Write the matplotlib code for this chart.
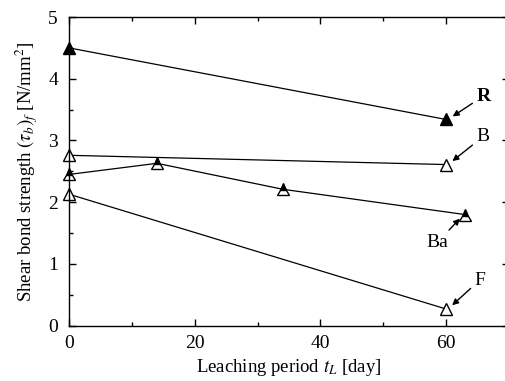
import matplotlib
matplotlib.use("Agg")
import matplotlib.pyplot as plt
from matplotlib.ticker import MultipleLocator

plt.rcParams['font.family'] = ['Liberation Serif', 'DejaVu Serif']
plt.rcParams['mathtext.fontset'] = 'stix'

# data
r_x = [0, 60]
r_y = [4.5, 3.34]
b_x = [0, 60]
b_y = [2.76, 2.61]
ba_x = [0, 14, 34, 63]
ba_y = [2.45, 2.63, 2.21, 1.80]
f_x = [0, 60]
f_y = [2.13, 0.27]

fig = plt.figure(figsize=(5.05, 3.81), dpi=100)
ax = fig.add_axes([69 / 505, 1 - 325.7 / 381, 440 / 505, 308.7 / 381])

ms = 8
ax.plot(r_x, r_y, color='black', lw=0.9, marker='^', ms=ms, mfc='black', mec='black', clip_on=False)
ax.plot(b_x, b_y, color='black', lw=0.9, marker='^', ms=ms, mfc='white', mec='black', clip_on=False)
ax.plot(ba_x, ba_y, color='black', lw=0.9, marker='^', ms=ms, fillstyle='top',
        mfc='black', mfcalt='white', mec='black', clip_on=False)
ax.plot(f_x, f_y, color='black', lw=0.9, marker='^', ms=ms, mfc='white', mec='black', clip_on=False)

arr = dict(arrowstyle='-|>', color='black', lw=1.0, mutation_scale=9, shrinkA=1, shrinkB=4)
ax.annotate('R', xy=(60.3, 3.34), xytext=(64.8, 3.72), fontsize=14, fontweight='bold',
            arrowprops=arr, ha='left', va='center')
ax.annotate('B', xy=(60.3, 2.61), xytext=(64.8, 3.06), fontsize=14,
            arrowprops=arr, ha='left', va='center')
ax.annotate('Ba', xy=(62.8, 1.8), xytext=(58.6, 1.35), fontsize=14,
            arrowprops=arr, ha='center', va='center')
ax.annotate('F', xy=(60.3, 0.27), xytext=(64.5, 0.74), fontsize=14,
            arrowprops=arr, ha='left', va='center')

ax.set_xlim(0, 70)
ax.set_ylim(0, 5)
ax.xaxis.set_major_locator(MultipleLocator(20))
ax.xaxis.set_minor_locator(MultipleLocator(10))
ax.yaxis.set_major_locator(MultipleLocator(1))
ax.yaxis.set_minor_locator(MultipleLocator(0.5))
ax.tick_params(which='both', direction='in', top=True, right=True, labelsize=14, width=1.0)
ax.tick_params(which='major', length=5)
ax.tick_params(which='minor', length=3)
ax.tick_params(axis='x', pad=7)
ax.tick_params(axis='y', pad=8)
for s in ax.spines.values():
    s.set_linewidth(1.0)

ax.set_xlabel('Leaching period $t_L$ [day]', fontsize=13.5, labelpad=3)
ax.set_ylabel('Shear bond strength $(\\tau_b)_f$ [N/mm$^2$]', fontsize=13.5, labelpad=6)

fig.savefig('out.png', dpi=100)
